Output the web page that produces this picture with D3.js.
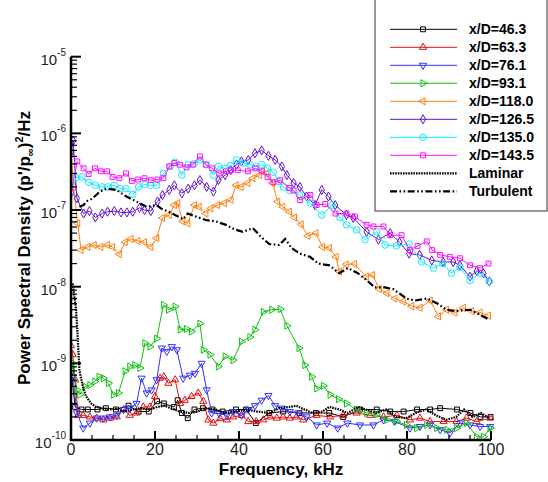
<!DOCTYPE html>
<html><head><meta charset="utf-8">
<script src="https://cdn.jsdelivr.net/npm/d3@7"></script>
<style>body{margin:0;background:#fff}svg{display:block}text{font-family:"Liberation Sans",Arial,Helvetica,sans-serif}</style>
</head><body><svg id="c" width="548" height="482"></svg>
<script>
// ---- data (frequency kHz, PSD) ----
const f46 = [0,1,2.5,4,6.3,8.3,10.7,13.7,16.1,18.5,20.5,22.1,24.5,25.4,26.4,27.8,29.4,31.4,33.7,36.1,39.3,41.7,44,47.2,50.5,54.4,58.3,61.5,64.8,68.8,72.8,76,79.2,82.4,85.5,87.9,91.9,95.1,97.5,99.9];
const p46 = [8e-10,2.7e-10,2.5e-10,2.5e-10,2.5e-10,2.6e-10,2.5e-10,2.8e-10,2.35e-10,2.35e-10,3.2e-10,3.0e-10,2.7e-10,3.3e-10,2.25e-10,1.93e-10,2.5e-10,2.6e-10,2.5e-10,2.35e-10,2.5e-10,2.5e-10,1.66e-10,2.25e-10,2.35e-10,2.25e-10,2.25e-10,2.25e-10,2.0e-10,2.5e-10,2.5e-10,2.35e-10,2.35e-10,2.5e-10,2.5e-10,2.6e-10,2.5e-10,2.25e-10,2.0e-10,2.0e-10];
const f63 = [0,0.4,1,1.7,2.9,4.5,6.1,7.7,9.3,10.9,12.5,14,15.6,17.2,18.8,20,21.2,22.1,23.2,24.8,26,27.1,28.7,30.3,31.5,32.7,33.9,35.5,37.1,38.6,40.6,42.2,44.1,45.8,47.4,49,50.5,52.1,53.7,55.3,58.5,61.7,64.8,68,71.2,74.4,77.6,80.7,83.1,85.5,88.7,91.8,94.2,96.6,99.8];
const p63 = [1.7e-9,1.3e-9,6.1e-10,2.1e-10,2.1e-10,2.0e-10,1.93e-10,1.83e-10,1.93e-10,2.0e-10,2.5e-10,2.1e-10,2.25e-10,2.7e-10,2.7e-10,3.7e-10,6.4e-10,6.7e-10,5.5e-10,6.1e-10,3.0e-10,3.3e-10,3.7e-10,4.1e-10,3.2e-10,1.83e-10,1.66e-10,1.9e-10,1.83e-10,2.0e-10,2.1e-10,1.74e-10,1.74e-10,1.83e-10,2.0e-10,1.93e-10,2.0e-10,1.93e-10,2.0e-10,1.83e-10,2.1e-10,2.0e-10,2.1e-10,2.25e-10,2.1e-10,2.0e-10,2.1e-10,1.83e-10,1.93e-10,1.74e-10,1.74e-10,1.74e-10,1.93e-10,1.74e-10,1.93e-10];
const f76 = [0,0.5,1.4,2.9,4.5,6.1,7.7,9.3,10.9,12.5,14,15.6,16.8,18,19.2,20.4,21.6,22.8,24,25.2,26.7,28.3,29.5,31.1,32.3,33.5,35.3,37.1,38.6,40.6,42.2,43.8,45.4,47,48.6,50.2,52.1,54.1,56.1,58.5,61,63.5,65.8,68.8,72,74.4,77,80.7,83.1,85.5,87.9,90.2,92.6,95,97.4,99.8];
const p76 = [6.0e-10,6.7e-10,2.25e-10,1.43e-10,1.66e-10,1.93e-10,1.93e-10,2.0e-10,2.1e-10,2.5e-10,2.6e-10,3.0e-10,6.4e-10,4.1e-10,4.5e-10,6.1e-10,1.58e-9,1.43e-9,1.65e-9,1.5e-9,6.4e-10,7.0e-10,7.4e-10,1.0e-9,4.5e-10,2.25e-10,2.2e-10,2.1e-10,2.35e-10,2.1e-10,2.5e-10,2.8e-10,3.3e-10,3.8e-10,2.8e-10,2.6e-10,2.35e-10,2.25e-10,2.0e-10,1.57e-10,1.66e-10,1.43e-10,1.66e-10,1.57e-10,1.57e-10,1.83e-10,1.75e-10,1.43e-10,1.5e-10,1.57e-10,1.36e-10,1.23e-10,1.66e-10,1.57e-10,1.5e-10,1.5e-10];
const f93 = [0,0.5,1.4,2.1,3.3,4.5,5.7,6.7,7.7,8.9,10.1,11.3,12.9,14,15.2,16.4,17.6,18.8,20.4,22,23.2,24.8,26,27.5,28.7,30.7,31.5,33.1,35.1,36.7,38.6,40.6,42.6,43.8,45.8,47.8,49.8,51.4,54.3,55.7,57.3,58.5,60.1,61.7,63.7,65.6,68,70.4,72.8,75.2,77.5,79.9,82.3,84.7,87.1,89.5,91.8,94.2,96.6,98.2,99.8];
const p93 = [9.0e-10,1.0e-9,4.5e-10,3.9e-10,5.0e-10,5.2e-10,5.8e-10,6.7e-10,6.4e-10,5.5e-10,3.9e-10,4.1e-10,7.9e-10,9.1e-10,9.5e-10,8.7e-10,1.83e-9,1.65e-9,2.1e-9,5.8e-9,5.0e-9,5.5e-9,2.75e-9,2.8e-9,2.6e-9,3.3e-9,1.5e-9,1.3e-9,9.1e-10,1.23e-9,1.1e-9,1.92e-9,2.2e-9,2.75e-9,4.7e-9,5.0e-9,5.1e-9,3.1e-9,1.58e-9,9.5e-10,6.7e-10,4.7e-10,5.1e-10,3.9e-10,3.4e-10,3.0e-10,2.5e-10,2.25e-10,2.15e-10,1.83e-10,1.75e-10,1.57e-10,1.43e-10,1.57e-10,1.43e-10,1.36e-10,1.43e-10,1.66e-10,1.1e-10,1.1e-10,1.43e-10];
const f118 = [0,0.6,1.6,2.4,4,5.5,7.1,8.7,9.9,11.5,12.9,14.3,15.9,17.5,19,20.4,21.8,23.4,24.6,25.4,26.6,27.8,29.4,30.5,32.1,33.3,34.9,36.5,38.1,39.3,40.5,42.1,43.3,44.9,45.6,46.6,48,49.2,50.4,52,53.2,54.8,56.4,58.3,59.9,61.5,63.1,63.9,65.5,67.5,70.3,71.8,73.4,75.2,77.1,79.1,81.1,83.1,85.5,87.5,89.4,91.4,93.4,95.4,97.4,99.4];
const p118 = [5.5e-7,2.0e-7,6.7e-8,3.0e-8,3.3e-8,3.5e-8,3.3e-8,3.5e-8,3.3e-8,2.65e-8,3.8e-8,4.2e-8,3.95e-8,3.8e-8,3.3e-8,4.3e-8,7.9e-8,8.6e-8,1.16e-7,1.23e-7,7.1e-8,6.7e-8,1.16e-7,1.1e-7,9.0e-8,1.05e-7,1.16e-7,1.23e-7,1.36e-7,2.1e-7,2.0e-7,2.25e-7,2.6e-7,2.85e-7,3.2e-7,3.0e-7,2.25e-7,1.29e-7,1.1e-7,9.5e-8,8.0e-8,6.5e-8,4.6e-8,5.0e-8,3.3e-8,3.2e-8,2.45e-8,1.57e-8,1.95e-8,1.98e-8,1.35e-8,1.42e-8,9.3e-9,8.2e-9,7.0e-9,6.4e-9,5.6e-9,5.3e-9,6.6e-9,4.1e-9,5.0e-9,4.6e-9,5.3e-9,4.8e-9,4.6e-9,4.2e-9];
const f126 = [0,0.5,1.4,3,4.4,5.8,7.4,8.7,10.3,11.9,13.3,14.7,16.3,17.5,19,20.6,21.8,23.4,24.6,26.4,27.9,29.4,30.7,32.3,33.9,35.1,36.7,38,39.4,40.6,42.2,43.8,45.4,47,48.6,50.2,51.4,53,54.5,56.1,58.1,59.7,61.3,62.9,65.6,67.2,70.4,73.2,76,78.2,80.5,83,85.9,88.6,91,92.6,95,96.6,98.2,99.6];
const p126 = [5.7e-7,8.0e-7,1.42e-7,9.0e-8,9.7e-8,8.0e-8,9.0e-8,9.5e-8,9.7e-8,9.3e-8,9.3e-8,9.5e-8,1.07e-7,1.0e-7,9.7e-8,1.29e-7,1.57e-7,1.83e-7,2.1e-7,1.65e-7,1.9e-7,2.1e-7,2.46e-7,2.0e-7,1.74e-7,2.46e-7,2.85e-7,3.3e-7,3.9e-7,4.3e-7,4.5e-7,5.5e-7,6.0e-7,5.1e-7,4.5e-7,3.7e-7,2.85e-7,2.25e-7,2.0e-7,1.5e-7,1.16e-7,1.83e-7,1.5e-7,1.16e-7,8.6e-8,7.9e-8,5.2e-8,4.1e-8,5.0e-8,3.8e-8,2.7e-8,2.6e-8,2.2e-8,2.1e-8,2.1e-8,1.9e-8,1.35e-8,1.6e-8,1.5e-8,1.17e-8];
const f135 = [0,1.2,2.6,4.2,5.8,7.4,8.8,10.3,11.7,13.1,14.7,16.1,17.5,19,20.4,22,23.6,24.8,26.4,27.9,29.3,30.7,32.3,33.9,35.1,36.7,38,39.4,41,42.6,44,45.4,46.8,48.2,49.4,50.6,52.1,54.4,57,59.7,62.1,64,65.6,68,70,72.8,74.8,77.5,80.5,83.5,86.3,88.5,90.6,92.6,95,97.4,99.6];
const p135 = [1.65e-7,2.65e-7,2.7e-7,2.3e-7,2.1e-7,2.0e-7,2.0e-7,2.1e-7,1.9e-7,1.9e-7,1.6e-7,2.0e-7,2.15e-7,2.1e-7,2.1e-7,3.0e-7,3.7e-7,4.2e-7,2.85e-7,3.9e-7,4.0e-7,4.5e-7,3.9e-7,2.85e-7,3.7e-7,3.5e-7,3.8e-7,4.5e-7,4.1e-7,3.9e-7,3.7e-7,3.9e-7,3.5e-7,3.1e-7,2.35e-7,2.0e-7,1.8e-7,1.57e-7,1.23e-7,8.6e-8,1.16e-7,8.0e-8,6.4e-8,5.5e-8,4.1e-8,5.2e-8,3.5e-8,3.4e-8,3.6e-8,2.1e-8,1.75e-8,2.0e-8,1.5e-8,1.8e-8,1.2e-8,1.5e-8,1.17e-8];
const f143 = [0,1.5,3,4.2,5.7,7.1,8.6,9.9,11.5,13.1,14.5,16,17.5,19,20.6,22,23.4,24.6,26,27.5,29,30.7,32.1,33.6,35.3,36.9,38.1,39.7,42.1,43.9,45.4,46.8,48.2,49.8,52,53,54.5,57,58.5,60.5,63,65.6,67.6,70.4,72,74.4,76,78.7,80.7,82.5,84.7,86,87.9,90.2,92.6,95,97.4,99.4];
const p143 = [1.7e-7,4.3e-7,3.5e-7,2.95e-7,3.5e-7,3.2e-7,3.2e-7,2.7e-7,2.6e-7,3.0e-7,2.4e-7,2.5e-7,2.6e-7,2.45e-7,2.5e-7,2.6e-7,3.7e-7,4.1e-7,3.9e-7,3.6e-7,3.9e-7,5.0e-7,3.9e-7,3.5e-7,3.0e-7,3.2e-7,3.3e-7,3.3e-7,3.2e-7,3.5e-7,3.2e-7,2.7e-7,2.3e-7,2.45e-7,1.94e-7,1.8e-7,1.35e-7,1.57e-7,1.16e-7,1.2e-7,9.0e-8,9.0e-8,8.2e-8,6.4e-8,6.1e-8,6.1e-8,4.7e-8,4.7e-8,3.0e-8,3.4e-8,3.9e-8,3.0e-8,2.6e-8,2.45e-8,2.35e-8,1.9e-8,1.75e-8,2.0e-8];
const fLam = [0.4,1.2,1.6,2,2.8,3.6,4.8,6,7.5,9.1,10.7,12.7,14.7,16.7,18.6,20.6,22.2,23.8,25.8,28.2,30.2,32.1,34.5,36.5,39.3,41.7,44.4,47.2,49.6,52,53.6,55.6,57.5,59.9,61.5,63.9,65.9,68.3,70.2,72.6,75,77.4,79.8,82.1,84.5,86.9,89.3,91.7,93.6,95.6,97.6,99.6];
const pLam = [1.1e-8,5.0e-9,2.2e-9,8.2e-10,5.0e-10,3.7e-10,3.0e-10,2.7e-10,2.6e-10,2.5e-10,2.55e-10,2.35e-10,2.5e-10,2.6e-10,2.5e-10,2.7e-10,2.8e-10,2.6e-10,2.35e-10,2.25e-10,2.35e-10,2.6e-10,2.5e-10,2.25e-10,2.35e-10,2.5e-10,2.35e-10,2.25e-10,2.6e-10,2.7e-10,2.8e-10,2.5e-10,2.25e-10,2.35e-10,2.7e-10,2.5e-10,2.25e-10,2.7e-10,2.5e-10,2.25e-10,2.5e-10,2.0e-10,1.93e-10,2.25e-10,2.5e-10,2.1e-10,1.83e-10,2.0e-10,2.5e-10,2.0e-10,2.25e-10,1.93e-10];
const fTurb = [2,3,3.6,5,6.9,8.5,10.8,13.2,15.6,18,20.4,21.4,23.6,25,26.7,27.8,29.8,32.1,34.5,36.9,38.9,40.9,43.3,45.2,47.2,49.6,51,52.5,54.5,56.9,58.9,61.5,63.9,65.9,68.3,70.3,72.3,74.7,76.7,79.9,81.9,84.7,87.1,89.4,91.8,95,97.4,99.6];
const pTurb = [1.1e-7,1.16e-7,1.29e-7,1.4e-7,1.74e-7,1.9e-7,1.83e-7,1.5e-7,1.29e-7,1.1e-7,1.16e-7,1.05e-7,9.3e-8,8.5e-8,7.6e-8,9.0e-8,8.2e-8,7.4e-8,7.1e-8,6.4e-8,5.6e-8,5.2e-8,5.8e-8,4.5e-8,3.6e-8,3.5e-8,4.2e-8,3.2e-8,2.7e-8,2.45e-8,2.0e-8,1.9e-8,1.5e-8,1.75e-8,1.5e-8,1.23e-8,9.8e-9,9.8e-9,9.3e-9,7.0e-9,6.6e-9,7.0e-9,6.1e-9,5.0e-9,4.8e-9,5.0e-9,4.3e-9,3.7e-9];
const seriesNames = ["x/D=46.3","x/D=63.3","x/D=76.1","x/D=93.1","x/D=118.0","x/D=126.5","x/D=135.0","x/D=143.5","Laminar","Turbulent"];
const xTicks = [0,20,40,60,80,100];
const yExps = [-10,-9,-8,-7,-6,-5];

// ---- styling ----
const series = [
  {name:seriesNames[0], f:f46, p:p46, color:"#000000", sym:"square"},
  {name:seriesNames[1], f:f63, p:p63, color:"#e01010", sym:"tri"},
  {name:seriesNames[2], f:f76, p:p76, color:"#3030ff", sym:"gradient"},
  {name:seriesNames[3], f:f93, p:p93, color:"#10c010", sym:"right"},
  {name:seriesNames[4], f:f118, p:p118, color:"#ff8010", sym:"left"},
  {name:seriesNames[5], f:f126, p:p126, color:"#6010d0", sym:"diamond"},
  {name:seriesNames[6], f:f135, p:p135, color:"#10e8ff", sym:"circle"},
  {name:seriesNames[7], f:f143, p:p143, color:"#ff10ff", sym:"square"},
  {name:seriesNames[8], f:fLam, p:pLam, color:"#000", dash:"1.6,1", width:2.2},
  {name:seriesNames[9], f:fTurb, p:pTurb, color:"#000", dash:"7,2.5,1.6,2.5,1.6,2.5", width:2.2}
];

const svg = d3.select("#c");
const L=71, R=491, T=56.7, B=440;
const x = d3.scaleLinear().domain([0,100]).range([L,R]);
const y = d3.scaleLog().domain([1e-10,1e-5]).range([B,T]);

svg.append("defs").append("clipPath").attr("id","clip")
  .append("rect").attr("x",L).attr("y",T).attr("width",R-L+4).attr("height",B-T+2);

function symPath(s){
  const map = {square:[d3.symbolSquare,24,0], tri:[d3.symbolTriangle,22,0], gradient:[d3.symbolTriangle,22,180],
    right:[d3.symbolTriangle,22,90], left:[d3.symbolTriangle,22,-90], diamond:[d3.symbolDiamond,24,0], circle:[d3.symbolCircle,34,0]};
  const m = map[s];
  return {d:d3.symbol().type(m[0]).size(m[1])(), rot:m[2]};
}

const plot = svg.append("g").attr("clip-path","url(#clip)");
const line = d3.line().x(d=>x(d[0])).y(d=>y(d[1]));
series.forEach(s=>{
  const pts = d3.zip(s.f, s.p);
  const g = plot.append("g");
  g.append("path").attr("d",line(pts)).attr("fill","none").attr("stroke",s.color)
    .attr("stroke-width",s.width||1).attr("stroke-dasharray",s.dash||null);
  if(s.sym){
    const sp = symPath(s.sym);
    g.selectAll("path.m").data(pts).join("path").attr("class","m").attr("d",sp.d)
      .attr("transform",d=>`translate(${x(d[0])},${y(d[1])}) rotate(${sp.rot})`)
      .attr("fill","none").attr("stroke",s.color).attr("stroke-width",1);
  }
});

// ---- axes ----
const ax = svg.append("g");
yExps.forEach(e=>{
  const base = Math.pow(10,e);
  ax.append("line").attr("x1",L).attr("x2",L+10).attr("y1",y(base)).attr("y2",y(base)).attr("stroke","#000").attr("stroke-width",2);
  if(e<-5){ for(let k=2;k<=9;k++){ const v=k*base;
    ax.append("line").attr("x1",L).attr("x2",L+6).attr("y1",y(v)).attr("y2",y(v)).attr("stroke","#000").attr("stroke-width",1.2);} }
  const t = ax.append("text").attr("x",L-5).attr("y",y(base)+8).attr("text-anchor","end").attr("font-size",15).attr("fill","#222");
  t.append("tspan").text("10");
  t.append("tspan").attr("font-size",10).attr("dy",-9).text(String(e));
});
for(let v=0; v<=100; v+=5){
  const major = v%20===0;
  ax.append("line").attr("x1",x(v)).attr("x2",x(v)).attr("y1",B).attr("y2",B-(major?9:5)).attr("stroke","#000").attr("stroke-width",major?2:1.2);
}
xTicks.forEach(v=>{
  ax.append("text").attr("x",x(v)).attr("y",B+15).attr("text-anchor","middle").attr("font-size",16).attr("fill","#222").text(v);
});
ax.append("line").attr("x1",L).attr("x2",L).attr("y1",T).attr("y2",B+1).attr("stroke","#000").attr("stroke-width",2.5);
ax.append("line").attr("x1",L-1).attr("x2",R).attr("y1",B).attr("y2",B).attr("stroke","#000").attr("stroke-width",2.5);

svg.append("text").attr("x",(L+R)/2).attr("y",475).attr("text-anchor","middle").attr("font-size",17).attr("font-weight","bold").text("Frequency, kHz");
const yl = svg.append("text").attr("transform","translate(30,248) rotate(-90)").attr("text-anchor","middle").attr("font-size",17).attr("font-weight","bold");
yl.append("tspan").text("Power Spectral Density (p'/p");
yl.append("tspan").attr("font-size",11).attr("dy",4).text("∞");
yl.append("tspan").attr("dy",-4).text(")");
yl.append("tspan").attr("font-size",11).attr("dy",-7).text("2");
yl.append("tspan").attr("dy",7).text("/Hz");

// ---- legend ----
const lg = svg.append("g");
lg.append("rect").attr("x",375).attr("y",-2).attr("width",172).attr("height",213).attr("fill","#fff").attr("stroke","#555").attr("stroke-width",1.2);
series.forEach((s,i)=>{
  const yy = 29.3 + i*18;
  lg.append("line").attr("x1",390).attr("x2",457).attr("y1",yy).attr("y2",yy).attr("stroke",s.color)
    .attr("stroke-width",s.width||1).attr("stroke-dasharray",s.dash||null);
  if(s.sym){ const sp=symPath(s.sym);
    lg.append("path").attr("d",sp.d).attr("transform",`translate(423,${yy}) rotate(${sp.rot})`).attr("fill","none").attr("stroke",s.color);}
  lg.append("text").attr("x",469).attr("y",yy+5).attr("font-size",14).attr("font-weight","bold").text(s.name);
});
</script></body></html>
